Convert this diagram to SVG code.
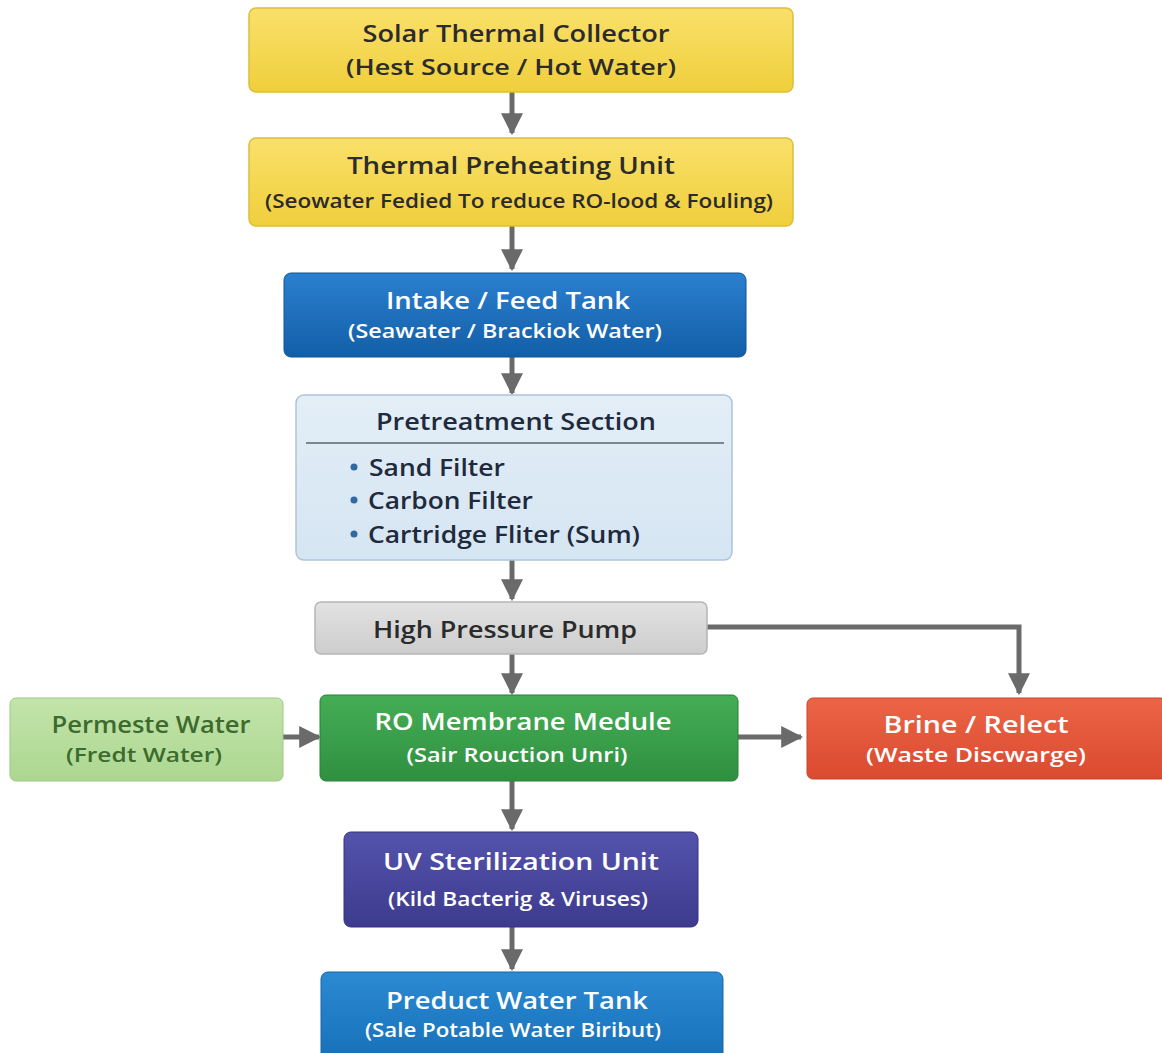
<svg xmlns="http://www.w3.org/2000/svg" width="1162" height="1053" viewBox="0 0 1162 1053">
<defs>
<linearGradient id="gY" x1="0" y1="0" x2="0" y2="1"><stop offset="0" stop-color="#f9e06a"/><stop offset="1" stop-color="#f0cf3c"/></linearGradient>
<linearGradient id="gB" x1="0" y1="0" x2="0" y2="1"><stop offset="0" stop-color="#2a80cf"/><stop offset="1" stop-color="#135ea8"/></linearGradient>
<linearGradient id="gB2" x1="0" y1="0" x2="0" y2="1"><stop offset="0" stop-color="#2b8ad2"/><stop offset="1" stop-color="#1670b8"/></linearGradient>
<linearGradient id="gG" x1="0" y1="0" x2="0" y2="1"><stop offset="0" stop-color="#45ad55"/><stop offset="1" stop-color="#2f9040"/></linearGradient>
<linearGradient id="gLG" x1="0" y1="0" x2="0" y2="1"><stop offset="0" stop-color="#c3e4ab"/><stop offset="1" stop-color="#acd790"/></linearGradient>
<linearGradient id="gR" x1="0" y1="0" x2="0" y2="1"><stop offset="0" stop-color="#ec6446"/><stop offset="1" stop-color="#da4a30"/></linearGradient>
<linearGradient id="gP" x1="0" y1="0" x2="0" y2="1"><stop offset="0" stop-color="#5453ac"/><stop offset="1" stop-color="#3d3b8e"/></linearGradient>
<linearGradient id="gGr" x1="0" y1="0" x2="0" y2="1"><stop offset="0" stop-color="#e2e2e2"/><stop offset="1" stop-color="#cdcdcd"/></linearGradient>
<linearGradient id="gLB" x1="0" y1="0" x2="0" y2="1"><stop offset="0" stop-color="#e3eef7"/><stop offset="1" stop-color="#d5e5f2"/></linearGradient>
<marker id="ah" viewBox="0 0 10 10" refX="9" refY="5" markerWidth="4.4" markerHeight="4.4" markerUnits="strokeWidth" orient="auto"><path d="M0,0 L10,5 L0,10 Z" fill="#6a6a6a"/></marker>
</defs>
<style>
text{font-family:"Open Sans","Liberation Sans",sans-serif;font-weight:600;text-anchor:middle}
.t{font-size:24px}
.s{font-size:20px}
.dk{fill:#2b2b2b}
.wh{fill:#ffffff}
.nv{fill:#1f2a3c}
.gr{fill:#3d6b2e}
.c{stroke:#6a6a6a;stroke-width:5;fill:none;marker-end:url(#ah)}
.bl{text-anchor:start;font-size:23px}
</style>
<rect width="1162" height="1053" fill="#ffffff"/>

<g id="connectors">
<line class="c" x1="512" y1="92" x2="512" y2="133"/>
<line class="c" x1="512" y1="226" x2="512" y2="269"/>
<line class="c" x1="512" y1="357" x2="512" y2="393"/>
<line class="c" x1="512" y1="560" x2="512" y2="599"/>
<line class="c" x1="512" y1="654" x2="512" y2="693"/>
<polyline class="c" points="707,627 1019,627 1019,693"/>
<line class="c" x1="283" y1="737" x2="319" y2="737"/>
<line class="c" x1="738" y1="737" x2="801" y2="737"/>
<line class="c" x1="512" y1="781" x2="512" y2="829"/>
<line class="c" x1="512" y1="927" x2="512" y2="969"/>
</g>

<g id="solar">
<rect x="249" y="8" width="544" height="84" rx="7" fill="url(#gY)" stroke="#dcbf3a" stroke-width="1.5"/>
<text class="t dk" x="516" y="42" textLength="307" lengthAdjust="spacingAndGlyphs">Solar Thermal Collector</text>
<text class="dk" x="511" y="75" style="font-size:22px" textLength="330" lengthAdjust="spacingAndGlyphs">(Hest Source / Hot Water)</text>
</g>

<g id="preheat">
<rect x="249" y="138" width="544" height="88" rx="7" fill="url(#gY)" stroke="#dcbf3a" stroke-width="1.5"/>
<text class="t dk" x="511" y="174" textLength="328" lengthAdjust="spacingAndGlyphs">Thermal Preheating Unit</text>
<text class="s dk" x="519" y="208" textLength="508" lengthAdjust="spacingAndGlyphs">(Seowater Fedied To reduce RO-lood &amp; Fouling)</text>
</g>

<g id="intake">
<rect x="284" y="273" width="462" height="84" rx="7" fill="url(#gB)" stroke="#115494" stroke-width="1"/>
<text class="t wh" x="508" y="309" textLength="244" lengthAdjust="spacingAndGlyphs">Intake / Feed Tank</text>
<text class="s wh" x="505" y="338" textLength="314" lengthAdjust="spacingAndGlyphs">(Seawater / Brackiok Water)</text>
</g>

<g id="pretreatment">
<rect x="296" y="395" width="436" height="165" rx="8" fill="url(#gLB)" stroke="#aec4d6" stroke-width="1.5"/>
<text class="t nv" x="516" y="430" textLength="280" lengthAdjust="spacingAndGlyphs">Pretreatment Section</text>
<line x1="306" y1="443" x2="724" y2="443" stroke="#5a6470" stroke-width="1.5"/>
<circle cx="354" cy="467" r="3.5" fill="#2f6aa0"/>
<circle cx="354" cy="500" r="3.5" fill="#2f6aa0"/>
<circle cx="354" cy="534" r="3.5" fill="#2f6aa0"/>
<text class="bl nv" x="369" y="476" textLength="136" lengthAdjust="spacingAndGlyphs">Sand Filter</text>
<text class="bl nv" x="368" y="509" textLength="165" lengthAdjust="spacingAndGlyphs">Carbon Filter</text>
<text class="bl nv" x="368" y="543" textLength="272" lengthAdjust="spacingAndGlyphs">Cartridge Fliter (Sum)</text>
</g>

<g id="pump">
<rect x="315" y="602" width="392" height="52" rx="6" fill="url(#gGr)" stroke="#b5b5b5" stroke-width="1.5"/>
<text class="t dk" x="505" y="638" textLength="264" lengthAdjust="spacingAndGlyphs">High Pressure Pump</text>
</g>

<g id="permeate">
<rect x="10" y="698" width="273" height="83" rx="6" fill="url(#gLG)" stroke="#9cc883" stroke-width="1"/>
<text class="t gr" x="151" y="733" textLength="199" lengthAdjust="spacingAndGlyphs">Permeste Water</text>
<text class="s gr" x="144" y="762" textLength="156" lengthAdjust="spacingAndGlyphs">(Fredt Water)</text>
</g>

<g id="ro">
<rect x="320" y="695" width="418" height="86" rx="6" fill="url(#gG)" stroke="#2a8039" stroke-width="1"/>
<text class="t wh" x="523" y="730" textLength="297" lengthAdjust="spacingAndGlyphs">RO Membrane Medule</text>
<text class="s wh" x="517" y="762" textLength="221" lengthAdjust="spacingAndGlyphs">(Sair Rouction Unri)</text>
</g>

<g id="brine">
<rect x="807" y="698" width="360" height="81" rx="6" fill="url(#gR)" stroke="#c8442c" stroke-width="1"/>
<text class="t wh" x="976" y="733" textLength="185" lengthAdjust="spacingAndGlyphs">Brine / Relect</text>
<text class="s wh" x="976" y="762" textLength="220" lengthAdjust="spacingAndGlyphs">(Waste Discwarge)</text>
</g>

<g id="uv">
<rect x="344" y="832" width="354" height="95" rx="7" fill="url(#gP)" stroke="#35337f" stroke-width="1"/>
<text class="t wh" x="521" y="870" textLength="276" lengthAdjust="spacingAndGlyphs">UV Sterilization Unit</text>
<text class="s wh" x="518" y="906" textLength="260" lengthAdjust="spacingAndGlyphs">(Kild Bacterig &amp; Viruses)</text>
</g>

<g id="product">
<rect x="321" y="972" width="402" height="90" rx="7" fill="url(#gB2)" stroke="#1566a8" stroke-width="1"/>
<text class="t wh" x="517" y="1009" textLength="262" lengthAdjust="spacingAndGlyphs">Preduct Water Tank</text>
<text class="s wh" x="513" y="1037" textLength="296" lengthAdjust="spacingAndGlyphs">(Sale Potable Water Biribut)</text>
</g>
</svg>
